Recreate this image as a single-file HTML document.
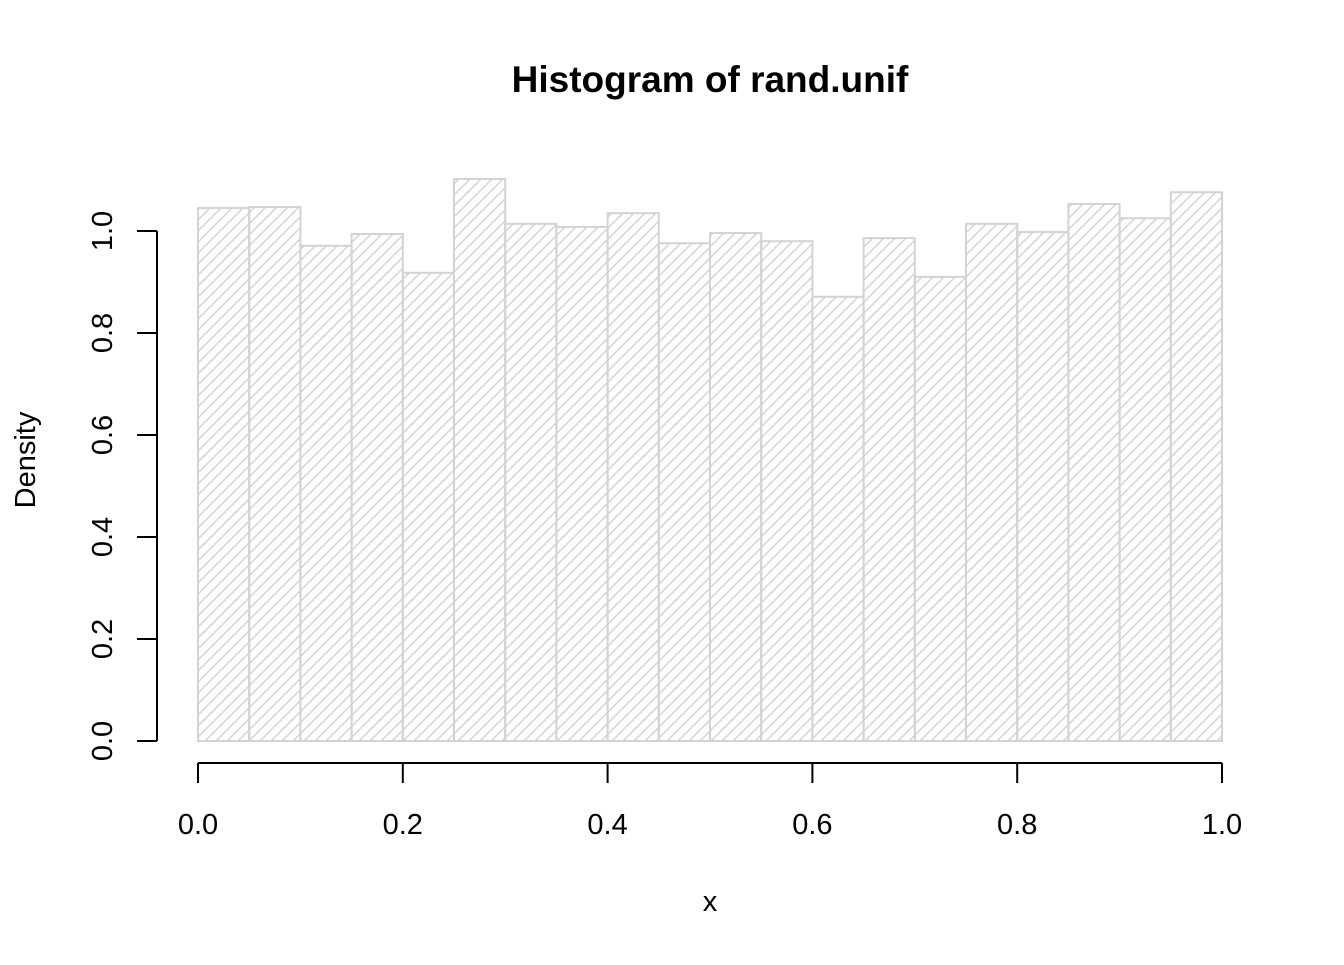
<!DOCTYPE html>
<html><head><meta charset="utf-8"><style>
body{margin:0;background:#fff}
svg text{font-family:"Liberation Sans",Arial,sans-serif}
</style></head><body>
<svg id="chart" width="1344" height="960" viewBox="0 0 1344 960" xmlns="http://www.w3.org/2000/svg">
<defs>
<pattern id="hatch" patternUnits="userSpaceOnUse" width="11" height="11">
<path d="M-2,13 L13,-2 M-2,2 L2,-2 M9,13 L13,9" stroke="#d3d3d3" stroke-width="1.5"/>
</pattern>
</defs>
<text x="710" y="92" text-anchor="middle" font-size="37" font-weight="bold">Histogram of rand.unif</text>
<text x="710" y="911" text-anchor="middle" font-size="29">x</text>
<text transform="translate(35,460) rotate(-90)" text-anchor="middle" font-size="29">Density</text>
<g id="bars"></g>
<g id="axes"></g>
</svg>
<script>
const breaks = [0,0.05,0.1,0.15,0.2,0.25,0.3,0.35,0.4,0.45,0.5,0.55,0.6,0.65,0.7,0.75,0.8,0.85,0.9,0.95,1.0];
const densities = [1.045,1.047,0.971,0.994,0.918,1.102,1.014,1.008,1.035,0.976,0.996,0.980,0.871,0.986,0.910,1.014,0.998,1.053,1.025,1.076];
const xTicks = [0,0.2,0.4,0.6,0.8,1.0];
const xTickLabels = ["0.0","0.2","0.4","0.6","0.8","1.0"];
const yTicks = [0,0.2,0.4,0.6,0.8,1.0];
const yTickLabels = ["0.0","0.2","0.4","0.6","0.8","1.0"];
const NS="http://www.w3.org/2000/svg";
const X=v=>198+v*1024;
const Y=v=>741-v*510;
function mk(tag,attrs,parent){const e=document.createElementNS(NS,tag);for(const k in attrs)e.setAttribute(k,attrs[k]);parent.appendChild(e);return e;}
const bars=document.getElementById('bars');
densities.forEach((d,i)=>{
  const x0=X(breaks[i]),x1=X(breaks[i+1]),y=Y(d);
  const r=mk('rect',{x:x0,y:y,width:x1-x0,height:Y(0)-y,fill:'url(#hatch)',stroke:'#d3d3d3','stroke-width':2},bars);
  
  
});
const ax=document.getElementById('axes');
const xa=mk('path',{d:`M${X(0)},763 H${X(1)}`,stroke:'#000','stroke-width':2,fill:'none'},ax);


xTicks.forEach((t,i)=>{
  mk('path',{d:`M${X(t)},763 V783`,stroke:'#000','stroke-width':2},ax);
  const tx=mk('text',{x:X(t),y:834,'text-anchor':'middle','font-size':29},ax);
  tx.textContent=xTickLabels[i];
  
  
});
const ya=mk('path',{d:`M157,${Y(0)} V${Y(1)}`,stroke:'#000','stroke-width':2,fill:'none'},ax);


yTicks.forEach((t,i)=>{
  mk('path',{d:`M137,${Y(t)} H157`,stroke:'#000','stroke-width':2},ax);
  const tx=mk('text',{transform:`translate(112,${Y(t)}) rotate(-90)`,'text-anchor':'middle','font-size':29},ax);
  tx.textContent=yTickLabels[i];
  
  
});
</script>
</body></html>
